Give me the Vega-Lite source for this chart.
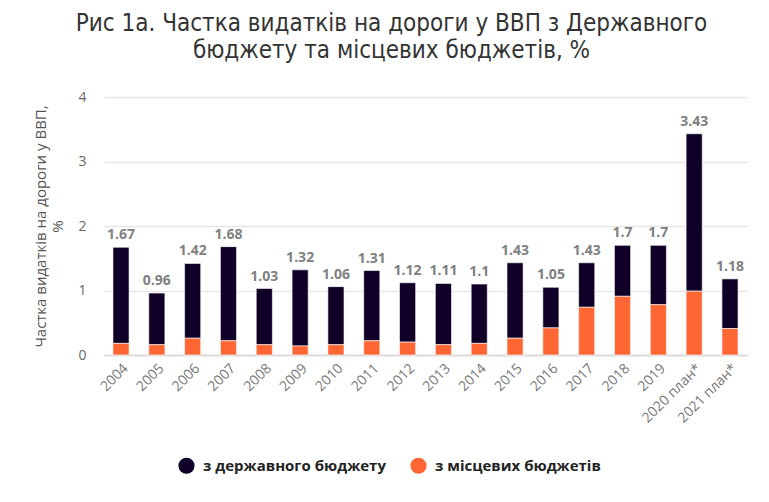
{
  "$schema": "https://vega.github.io/schema/vega-lite/v6.json",
  "autosize": {"type": "none"},
  "width": 643,
  "height": 258,
  "padding": {"left": 104, "top": 97, "right": 22, "bottom": 147},
  "background": "white",
  "title": {
    "text": ["Рис 1а. Частка видатків на дороги у ВВП з Державного", "бюджету та місцевих бюджетів, %"],
    "font": "DejaVu Sans Condensed, Roboto",
    "fontSize": 24,
    "fontWeight": "normal",
    "color": "#333333",
    "lineHeight": 27,
    "anchor": "middle",
    "dx": -34,
    "offset": 27
  },
  "data": {
    "values": [
      {"year": "2004", "source": "з державного бюджету", "value": 1.49},
      {"year": "2004", "source": "з місцевих бюджетів", "value": 0.18},
      {"year": "2005", "source": "з державного бюджету", "value": 0.80},
      {"year": "2005", "source": "з місцевих бюджетів", "value": 0.16},
      {"year": "2006", "source": "з державного бюджету", "value": 1.16},
      {"year": "2006", "source": "з місцевих бюджетів", "value": 0.26},
      {"year": "2007", "source": "з державного бюджету", "value": 1.46},
      {"year": "2007", "source": "з місцевих бюджетів", "value": 0.22},
      {"year": "2008", "source": "з державного бюджету", "value": 0.87},
      {"year": "2008", "source": "з місцевих бюджетів", "value": 0.16},
      {"year": "2009", "source": "з державного бюджету", "value": 1.18},
      {"year": "2009", "source": "з місцевих бюджетів", "value": 0.14},
      {"year": "2010", "source": "з державного бюджету", "value": 0.90},
      {"year": "2010", "source": "з місцевих бюджетів", "value": 0.16},
      {"year": "2011", "source": "з державного бюджету", "value": 1.09},
      {"year": "2011", "source": "з місцевих бюджетів", "value": 0.22},
      {"year": "2012", "source": "з державного бюджету", "value": 0.92},
      {"year": "2012", "source": "з місцевих бюджетів", "value": 0.20},
      {"year": "2013", "source": "з державного бюджету", "value": 0.95},
      {"year": "2013", "source": "з місцевих бюджетів", "value": 0.16},
      {"year": "2014", "source": "з державного бюджету", "value": 0.92},
      {"year": "2014", "source": "з місцевих бюджетів", "value": 0.18},
      {"year": "2015", "source": "з державного бюджету", "value": 1.17},
      {"year": "2015", "source": "з місцевих бюджетів", "value": 0.26},
      {"year": "2016", "source": "з державного бюджету", "value": 0.63},
      {"year": "2016", "source": "з місцевих бюджетів", "value": 0.42},
      {"year": "2017", "source": "з державного бюджету", "value": 0.69},
      {"year": "2017", "source": "з місцевих бюджетів", "value": 0.74},
      {"year": "2018", "source": "з державного бюджету", "value": 0.79},
      {"year": "2018", "source": "з місцевих бюджетів", "value": 0.91},
      {"year": "2019", "source": "з державного бюджету", "value": 0.92},
      {"year": "2019", "source": "з місцевих бюджетів", "value": 0.78},
      {"year": "2020 план*", "source": "з державного бюджету", "value": 2.44},
      {"year": "2020 план*", "source": "з місцевих бюджетів", "value": 0.99},
      {"year": "2021 план*", "source": "з державного бюджету", "value": 0.77},
      {"year": "2021 план*", "source": "з місцевих бюджетів", "value": 0.41}
    ]
  },
  "encoding": {
    "x": {
      "field": "year",
      "type": "ordinal",
      "scale": {"paddingInner": 0.55, "paddingOuter": 0.25},
      "axis": {
        "title": null,
        "labelAngle": -45,
        "labelFont": "Open Sans",
        "labelFontSize": 14,
        "labelColor": "#777777",
        "labelPadding": 6,
        "ticks": false,
        "domainColor": "#dddddd",
        "domainWidth": 2
      }
    }
  },
  "layer": [
    {
      "mark": {"type": "bar", "stroke": "white", "strokeWidth": 0.6},
      "encoding": {
        "y": {
          "field": "value",
          "type": "quantitative",
          "aggregate": "sum",
          "stack": "zero",
          "scale": {"domain": [0, 4]},
          "axis": {
            "title": ["Частка видатків на дороги у ВВП,", "%"],
            "titleFont": "Open Sans",
            "titleFontSize": 15,
            "titleFontWeight": "normal",
            "titleColor": "#555555",
            "titlePadding": 12,
            "values": [0, 1, 2, 3, 4],
            "format": "d",
            "labelFont": "Open Sans",
            "labelFontSize": 14,
            "labelColor": "#666666",
            "labelPadding": 18,
            "labelOverlap": false,
            "ticks": false,
            "domain": false,
            "gridColor": "#e6e6e6",
            "gridWidth": 1.5
          }
        },
        "color": {
          "field": "source",
          "type": "nominal",
          "scale": {
            "domain": ["з державного бюджету", "з місцевих бюджетів"],
            "range": ["#100028", "#ff6633"]
          },
          "legend": {
            "title": null,
            "orient": "none",
            "direction": "horizontal",
            "legendX": 74,
            "legendY": 360,
            "symbolType": "circle",
            "symbolSize": 260,
            "symbolStrokeWidth": 0,
            "labelFont": "Open Sans",
            "labelFontSize": 15,
            "labelFontWeight": "bold",
            "labelColor": "#222222",
            "labelLimit": 400,
            "columnPadding": 24,
            "labelOffset": 8
          }
        },
        "order": {"field": "source", "sort": "descending"}
      }
    },
    {
      "mark": {
        "type": "text",
        "dy": -12,
        "font": "Open Sans",
        "fontSize": 14,
        "fontWeight": "bold",
        "color": "#808080"
      },
      "encoding": {
        "y": {"field": "value", "type": "quantitative", "aggregate": "sum"},
        "text": {"field": "value", "type": "quantitative", "aggregate": "sum", "format": ".2~f"}
      }
    }
  ],
  "config": {"view": {"stroke": null}}
}
